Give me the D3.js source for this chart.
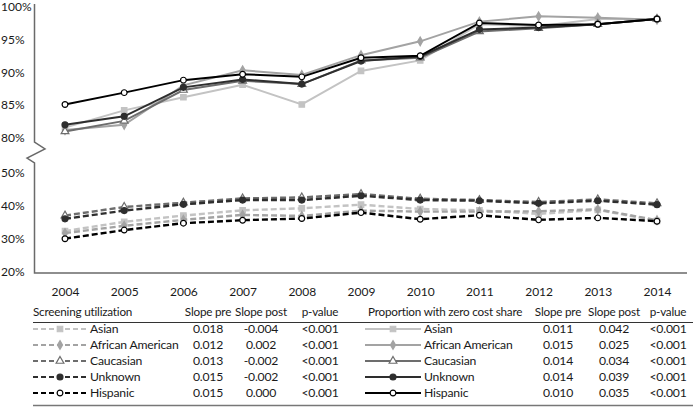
<!DOCTYPE html>
<html>
<head>
<meta charset="utf-8">
<script src="https://cdn.jsdelivr.net/npm/d3@7"></script>
<style>
  body { margin: 0; background: #fff; }
  svg text { font-family: Lato, "Open Sans", sans-serif; fill: #1a1a1a; }
</style>
</head>
<body>
<div class="chart"></div>
<script>
var width = 700, height = 408;

var years = [2004, 2005, 2006, 2007, 2008, 2009, 2010, 2011, 2012, 2013, 2014];
var groups = ["Asian", "African American", "Caucasian", "Unknown", "Hispanic"];

// proportion with zero cost share (%), solid lines
var zeroAsian     = [81.6, 84.2, 86.2, 88.1, 85.1, 90.2, 91.8, 97.3, 97.0, 98.1, 98.1];
var zeroAfrAm     = [81.2, 82.0, 88.0, 90.3, 89.6, 92.6, 94.7, 97.7, 98.5, 98.3, 98.0];
var zeroCauc      = [81.0, 82.6, 87.3, 88.7, 88.2, 91.8, 92.2, 96.2, 96.7, 97.3, 98.1];
var zeroUnknown   = [82.0, 83.3, 87.7, 88.9, 88.2, 91.7, 92.4, 96.5, 96.8, 97.3, 98.1];
var zeroHispanic  = [85.1, 86.9, 88.8, 89.7, 89.3, 92.2, 92.5, 97.5, 97.2, 97.3, 98.1];

// screening utilization (%), dashed lines
var scrAsian      = [32.4, 35.2, 37.1, 38.7, 39.3, 40.4, 39.1, 38.7, 37.6, 38.8, 35.5];
var scrAfrAm      = [31.8, 34.0, 35.8, 37.3, 37.0, 38.6, 38.3, 38.3, 38.4, 39.0, 35.7];
var scrCauc       = [37.1, 39.7, 41.0, 42.3, 42.6, 43.6, 42.2, 41.8, 41.2, 42.0, 40.8];
var scrUnknown    = [36.1, 38.6, 40.5, 41.8, 41.8, 43.1, 41.8, 41.6, 40.8, 41.6, 40.4];
var scrHispanic   = [30.1, 32.7, 34.8, 35.7, 36.2, 38.0, 36.0, 37.2, 35.8, 36.4, 35.4];

var upperTicks = [80, 85, 90, 95, 100];
var lowerTicks = [20, 30, 40, 50];

var scrSlopePre  = ["0.018", "0.012", "0.013", "0.015", "0.015"];
var scrSlopePost = ["-0.004", "0.002", "-0.002", "-0.002", "0.000"];
var scrP         = ["<0.001", "<0.001", "<0.001", "<0.001", "<0.001"];
var zeroSlopePre  = ["0.011", "0.015", "0.014", "0.014", "0.010"];
var zeroSlopePost = ["0.042", "0.025", "0.034", "0.039", "0.035"];
var zeroP         = ["<0.001", "<0.001", "<0.001", "<0.001", "<0.001"];

var colors  = ["#c3c3c3", "#a3a3a3", "#6d6d6d", "#2e2e2e", "#000000"];
var symbols = [d3.symbolSquare, d3.symbolDiamond, d3.symbolTriangle, d3.symbolCircle, d3.symbolCircle];
var symSize = [30, 22, 26, 28, 26];
var fills   = [null, null, "#fff", null, "#fff"];

var zeroData = [zeroAsian, zeroAfrAm, zeroCauc, zeroUnknown, zeroHispanic];
var scrData  = [scrAsian, scrAfrAm, scrCauc, scrUnknown, scrHispanic];

var svg = d3.select(".chart").append("svg")
    .attr("width", width).attr("height", height);

var x = d3.scalePoint().domain(years).range([65, 657]);
var yU = d3.scaleLinear().domain([80, 100]).range([138, 6.5]);
var yL = d3.scaleLinear().domain([20, 50]).range([272, 173]);

// axes with the broken y axis
var axisColor = "#6a6a6a";
svg.append("path")
    .attr("d", "M34.5,4 L34.5,142 L45,149 L27,158 L34.5,163 L34.5,273 L687,273")
    .attr("fill", "none").attr("stroke", axisColor).attr("stroke-width", 1.5);

function yAxisLabels(scale, ticks) {
  var g = svg.append("g").attr("transform", "translate(34,0)")
      .call(d3.axisLeft(scale).tickValues(ticks).tickSize(0)
        .tickFormat(function(d) { return d + "%"; }));
  g.select(".domain").remove();
  g.selectAll("text")
      .attr("x", -33).style("text-anchor", "start")
      .style("font-size", "12px").style("font-family", "Lato, sans-serif").attr("fill", "#1a1a1a");
}
yAxisLabels(yU, upperTicks);
yAxisLabels(yL, lowerTicks);

var xg = svg.append("g").attr("transform", "translate(0,273)")
    .call(d3.axisBottom(x).tickSize(0).tickPadding(14));
xg.select(".domain").remove();
xg.selectAll("text").style("font-size", "12px").style("font-family", "Lato, sans-serif").attr("fill", "#1a1a1a");

function drawSeries(values, i, yScale, dashed) {
  var line = d3.line()
      .x(function(d, j) { return x(years[j]); })
      .y(function(d) { return yScale(d); });
  svg.append("path")
      .attr("d", line(values))
      .attr("fill", "none")
      .attr("stroke", colors[i])
      .attr("stroke-width", dashed ? 2.4 : 2)
      .attr("stroke-dasharray", dashed ? "6,3" : null);
  svg.selectAll(null).data(values).enter().append("path")
      .attr("transform", function(d, j) { return "translate(" + x(years[j]) + "," + yScale(d) + ")"; })
      .attr("d", d3.symbol().type(symbols[i]).size(symSize[i]))
      .attr("fill", fills[i] || colors[i])
      .attr("stroke", colors[i])
      .attr("stroke-width", 1.2);
}

scrData.forEach(function(v, i) { drawSeries(v, i, yL, true); });
zeroData.forEach(function(v, i) { drawSeries(v, i, yU, false); });

// legend tables
var headY = 316, rowY = [333, 349, 365, 381, 397];
function txt(xp, yp, s, anchor, size) {
  svg.append("text").attr("x", xp).attr("y", yp).text(s)
      .style("font-size", (size || 12.2) + "px").style("letter-spacing", "-0.2px")
      .style("text-anchor", anchor || "start");
}
svg.append("line").attr("x1", 33).attr("x2", 693).attr("y1", 322.5).attr("y2", 322.5)
    .attr("stroke", "#333").attr("stroke-width", 1);
svg.append("line").attr("x1", 33).attr("x2", 693).attr("y1", 405.5).attr("y2", 405.5)
    .attr("stroke", "#777").attr("stroke-width", 1.5);

function table(x0, lineX0, lineX1, title, cols, pre, post, p, dashed) {
  txt(x0, headY, title, "start", 11.7);
  txt(cols[0], headY, "Slope pre", "middle", 11.7);
  txt(cols[1], headY, "Slope post", "middle", 11.7);
  txt(cols[2], headY, "p-value", "middle", 11.7);
  groups.forEach(function(gname, i) {
    var yy = rowY[i];
    svg.append("line").attr("x1", lineX0).attr("x2", lineX1)
        .attr("y1", yy - 4).attr("y2", yy - 4)
        .attr("stroke", colors[i]).attr("stroke-width", dashed ? 2.2 : 2)
        .attr("stroke-dasharray", dashed ? "5,3" : null);
    svg.append("path")
        .attr("transform", "translate(" + ((lineX0 + lineX1) / 2) + "," + (yy - 4) + ")")
        .attr("d", d3.symbol().type(symbols[i]).size(symSize[i]))
        .attr("fill", fills[i] || colors[i]).attr("stroke", colors[i]).attr("stroke-width", 1.2);
    txt(lineX1 + 3, yy, gname);
    txt(cols[0], yy, pre[i], "middle");
    txt(cols[1], yy, post[i], "middle");
    txt(cols[2], yy, p[i], "middle");
  });
}
table(33, 33, 87, "Screening utilization", [208, 261, 320], scrSlopePre, scrSlopePost, scrP, true);
table(368, 365, 421, "Proportion with zero cost share", [558, 614, 668], zeroSlopePre, zeroSlopePost, zeroP, false);
</script>
</body>
</html>
